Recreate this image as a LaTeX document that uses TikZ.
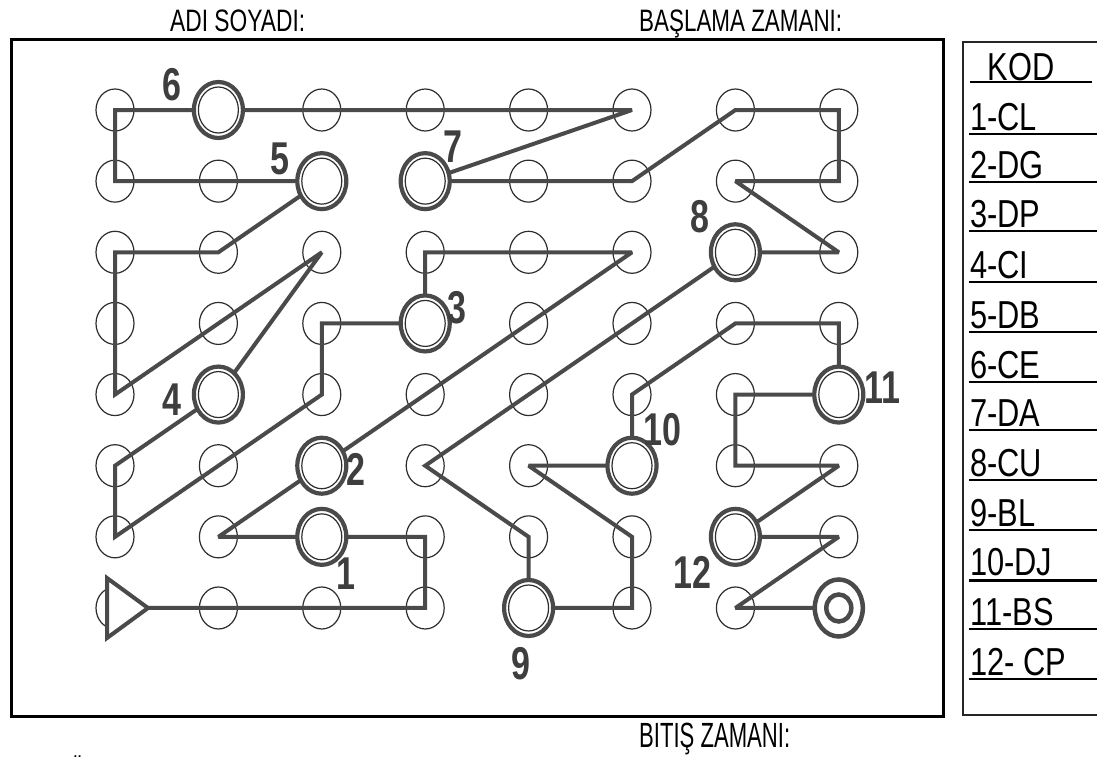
\documentclass[tikz,border=0pt]{standalone}
\usepackage{fontspec}
\setmainfont{Liberation Sans}
\usepackage{graphicx}
\definecolor{routegray}{RGB}{74,74,74}
\definecolor{spotgray}{RGB}{45,45,45}
\definecolor{digitgray}{RGB}{62,62,62}
\newcommand\digitlabel[1]{\scalebox{0.74}[1]{\fontsize{46}{46}\selectfont\bfseries #1}}
\newcommand\codetext[1]{\scalebox{0.79}[1]{\fontsize{39}{39}\selectfont #1}}
\newcommand\headtext[3]{\resizebox{#1}{\height}{\fontsize{#2}{#2}\selectfont #3}}
\tikzset{
  spot/.style={draw=spotgray, line width=1.2pt},
  route/.style={draw=routegray, line width=4pt, line join=miter, miter limit=3},
  ringouter/.style={draw=routegray, fill=white, line width=4.2pt},
  ringinner/.style={draw=spotgray, line width=1.2pt},
  digit/.style={text=digitgray, inner sep=0pt, anchor=center},
  codeentry/.style={inner sep=0pt, anchor=base west},
  frameline/.style={draw=black, line width=3pt},
  tableline/.style={draw=black!85, line width=1.6pt},
  ruleline/.style={draw=black, line width=1.6pt},
  headline/.style={inner sep=0pt, anchor=base west}
}
\begin{document}
\begin{tikzpicture}[x=1pt,y=-1pt]
\useasboundingbox (0,0) rectangle (1097,756);
\fill[white] (0,0) rectangle (1097,756);

% grid points of the maze
\foreach \c in {0,...,7}
  \foreach \r in {0,...,7}
    \coordinate (p\c\r) at ({115+103.4*\c},{110+71.14*\r});

% outer frame
\draw[frameline] (11,39) rectangle (943,716);

% small open circles
\foreach \c in {0,...,7}
  \foreach \r in {0,...,7}
    \draw[spot] (p\c\r) ellipse [x radius=19pt, y radius=21pt];

% the route through the grid
\draw[route] (p07) -- (p37) -- (p36) -- (p16) -- (p52) -- (p32) -- (p33)
  -- (p23) -- (p24) -- (p06) -- (p05) -- (p14) -- (p22) -- (p04) -- (p02)
  -- (p12) -- (p21) -- (p01) -- (p00) -- (p50) -- (p31) -- (p51) -- (p60)
  -- (p70) -- (p71) -- (p61) -- (p72) -- (p62) -- (p35) -- (p46) -- (p47)
  -- (p57) -- (p56) -- (p45) -- (p55) -- (p54) -- (p63) -- (p73) -- (p74)
  -- (p64) -- (p65) -- (p75) -- (p66) -- (p76) -- (p67) -- (p77);

% control points (double rings)
\foreach \p in {p26,p25,p33,p14,p21,p10,p31,p62,p47,p55,p74,p66} {
  \filldraw[ringouter] (\p) ellipse [x radius=24.5pt, y radius=28pt];
  \draw[ringinner] (\p) ellipse [x radius=20pt, y radius=23pt];
}

% start triangle
\filldraw[draw=routegray, fill=white, line width=4pt, line join=miter]
  (107,578) -- (148,608) -- (107,638) -- cycle;

% finish mark
\filldraw[ringouter, line width=4.5pt] (p77) ellipse [x radius=24pt, y radius=28.5pt];
\draw[draw=routegray, line width=4.5pt] (p77) ellipse [x radius=12.5pt, y radius=13.5pt];

% control point numbers
\node[digit] (l1)  at (346,574) {\digitlabel{1}};
\node[digit] (l2)  at (356,469) {\digitlabel{2}};
\node[digit] (l3)  at (457,308) {\digitlabel{3}};
\node[digit] (l4)  at (172,400) {\digitlabel{4}};
\node[digit] (l5)  at (280,159) {\digitlabel{5}};
\node[digit] (l6)  at (172,85)  {\digitlabel{6}};
\node[digit] (l7)  at (453,147) {\digitlabel{7}};
\node[digit] (l8)  at (700,217) {\digitlabel{8}};
\node[digit] (l9)  at (521,664) {\digitlabel{9}};
\node[digit] (l10) at (662,430) {\digitlabel{10}};
\node[digit] (l11) at (882,388) {\digitlabel{11}};
\node[digit] (l12) at (692,572) {\digitlabel{12}};

% header and footer fields
\node[headline] (hname)  at (170,31)  {\headtext{135pt}{31}{ADI SOYADI:}};
\node[headline] (hstart) at (639,31)  {\headtext{203pt}{31}{BAŞLAMA ZAMANI:}};
\node[headline] (hend)   at (639,747) {\headtext{151pt}{35}{BITIŞ ZAMANI:}};
\begin{scope}
  \clip (0,0) rectangle (1097,756);
  \node[headline] (hfoot) at (69,782) {\headtext{17pt}{32}{Ö}};
\end{scope}

% code table
\draw[tableline] (1100,42) -- (963,42) -- (963,715) -- (1100,715);
\draw[ruleline] (970,82) -- (1092,82);
\foreach \y in {134,182,231,282,332,382,430,480,530,629,679}
  \draw[ruleline] (969,\y) -- (1100,\y);
\draw[ruleline, line width=3pt] (969,580) -- (1100,580);
\node[inner sep=0pt, anchor=base] (kod) at (1021,80) {\codetext{KOD}};
\node[codeentry] (c1)  at (970,130) {\codetext{1-CL}};
\node[codeentry] (c2)  at (970,178) {\codetext{2-DG}};
\node[codeentry] (c3)  at (970,227) {\codetext{3-DP}};
\node[codeentry] (c4)  at (970,278) {\codetext{4-CI}};
\node[codeentry] (c5)  at (970,328) {\codetext{5-DB}};
\node[codeentry] (c6)  at (970,378) {\codetext{6-CE}};
\node[codeentry] (c7)  at (970,426) {\codetext{7-DA}};
\node[codeentry] (c8)  at (970,476) {\codetext{8-CU}};
\node[codeentry] (c9)  at (970,526) {\codetext{9-BL}};
\node[codeentry] (c10) at (970,575) {\codetext{10-DJ}};
\node[codeentry] (c11) at (970,625) {\codetext{11-BS}};
\node[codeentry] (c12) at (970,675) {\codetext{12- CP}};
\end{tikzpicture}
\end{document}
